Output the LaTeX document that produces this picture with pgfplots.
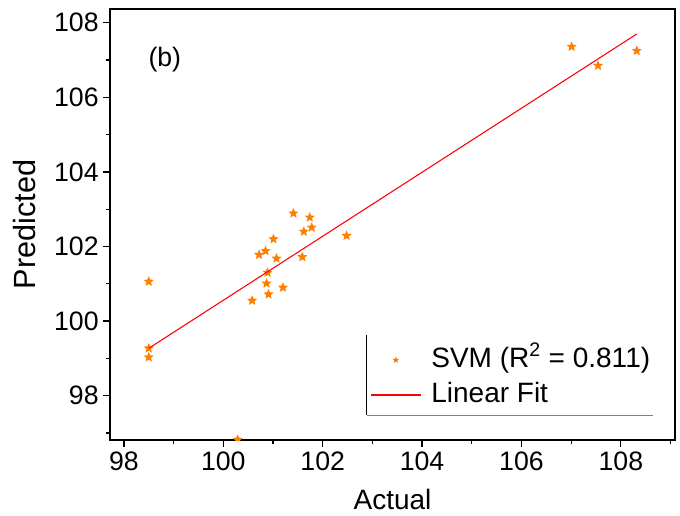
\documentclass[border=0pt]{standalone}
\usepackage{fontspec}
\setmainfont{Liberation Sans}
\usepackage{pgfplots}
\pgfplotsset{compat=1.18}

\definecolor{svmorange}{RGB}{255,128,0}

% filled five-pointed star
\pgfdeclareplotmark{fstar}{%
  \pgfpathmoveto{\pgfpointpolar{90}{\pgfplotmarksize}}%
  \pgfpathlineto{\pgfpointpolar{126}{0.45\pgfplotmarksize}}%
  \pgfpathlineto{\pgfpointpolar{162}{\pgfplotmarksize}}%
  \pgfpathlineto{\pgfpointpolar{198}{0.45\pgfplotmarksize}}%
  \pgfpathlineto{\pgfpointpolar{234}{\pgfplotmarksize}}%
  \pgfpathlineto{\pgfpointpolar{270}{0.45\pgfplotmarksize}}%
  \pgfpathlineto{\pgfpointpolar{306}{\pgfplotmarksize}}%
  \pgfpathlineto{\pgfpointpolar{342}{0.45\pgfplotmarksize}}%
  \pgfpathlineto{\pgfpointpolar{18}{\pgfplotmarksize}}%
  \pgfpathlineto{\pgfpointpolar{54}{0.45\pgfplotmarksize}}%
  \pgfpathclose
  \pgfusepathqfill
}

\pgfplotsset{
  starlegend/.style={legend image code/.code={%
      \path (0pt,0pt) (37.5pt,0pt);
      \draw[##1, mark size=2.6pt] plot coordinates {(18.75pt,0pt)};}},
  linelegend/.style={legend image code/.code={%
      \draw[##1] (0pt,0pt) -- (37.5pt,0pt);}},
}

\begin{document}
\begin{tikzpicture}
\useasboundingbox (-82.5pt,-56.25pt) rectangle (427.5pt,330pt);
\begin{axis}[
    width=423.75pt,
    height=323.25pt,
    scale only axis,
    xmin=97.72, xmax=109.09,
    ymin=96.81, ymax=108.37,
    xtick={98,100,...,108},
    ytick={98,100,...,108},
    minor xtick={99,101,...,109},
    minor ytick={97,99,...,107},
    xtick pos=lower,
    ytick pos=left,
    tick align=outside,
    major tick length=5pt,
    minor tick length=3.2pt,
    every tick/.style={black, line width=0.9pt},
    axis line style={line width=1.4pt},
    clip marker paths=true,
    /pgf/number format/assume math mode=true,
    tick label style={font=\fontsize{20}{22}\selectfont},
    xlabel={Actual},
    ylabel={Predicted},
    xlabel style={font=\fontsize{21}{24}\selectfont,
        at={(axis description cs:0.5,-0.139)}, anchor=center},
    ylabel style={font=\fontsize{23}{26}\selectfont,
        at={(axis description cs:-0.152,0.5)}, anchor=center},
    legend style={
        at={(axis description cs:0.4602,0.145)}, anchor=west,
        draw=none, fill=none, inner sep=0pt,
        font=\fontsize{21}{24}\selectfont,
        row sep=4.75pt,
        nodes={inner sep=1pt, text height=15pt, text depth=4.5pt},
        /tikz/every odd column/.append style={column sep=6.5pt}
    },
    legend cell align=left,
]
\addplot[only marks, mark=fstar, mark size=4pt, color=svmorange, starlegend]
coordinates {
    (101.41,102.89) (101.74,102.78) (101.62,102.40) (101.78,102.51)
    (102.48,102.29) (101.01,102.20) (100.85,101.88) (100.72,101.78)
    (101.07,101.68) (101.59,101.72) (100.89,101.30) (100.87,101.01)
    (100.91,100.72) (101.20,100.90) (100.58,100.55)
    (98.50,101.06) (98.50,99.27) (98.50,99.03)
    (100.29,96.82)
    (107.01,107.36) (107.54,106.85) (108.32,107.25)
};
\addlegendentry{SVM (R\textsuperscript{2} = 0.811)}
\addplot[red, line width=0.8pt, linelegend]
coordinates {(98.50,99.27) (108.32,107.70)};
\addlegendentry{Linear Fit}
\draw[black, line width=0.6pt] (rel axis cs:0.4544,0.2436) -- (rel axis cs:0.4544,0.058);
\draw[gray, line width=0.6pt] (rel axis cs:0.4544,0.058) -- (rel axis cs:0.9616,0.058);
\node[font=\fontsize{20}{22}\selectfont] at (rel axis cs:0.097,0.882) {(b)};
\end{axis}
\end{tikzpicture}
\end{document}
